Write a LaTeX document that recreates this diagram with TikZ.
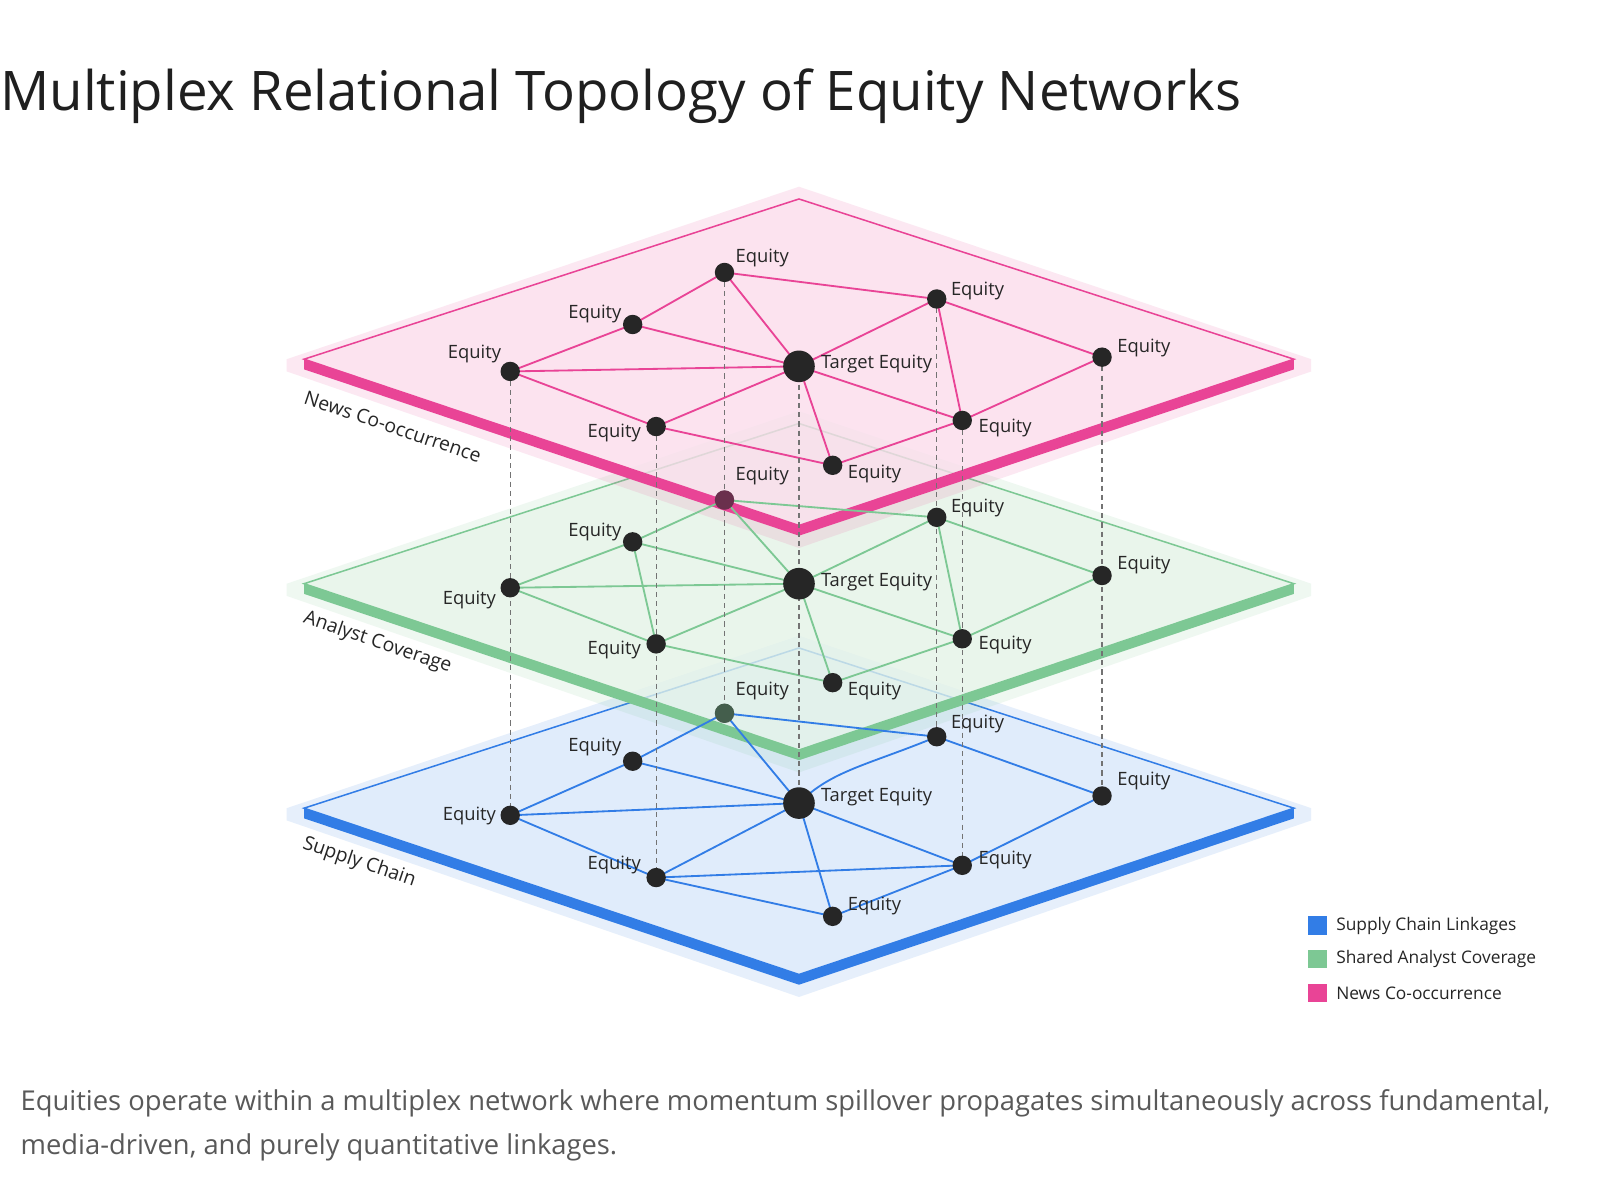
\documentclass[tikz,border=0pt]{standalone}
\usepackage{fontspec}
\setmainfont{Open Sans}
\begin{document}
\begin{tikzpicture}[x=1pt,y=-1pt,
  dot/.style={circle,fill=black!85,inner sep=0pt,minimum size=19pt},
  tdot/.style={circle,fill=black!85,inner sep=0pt,minimum size=31pt},
  lab/.style={font=\fontsize{18}{21}\selectfont,text=black!85},
  lay/.style={font=\fontsize{19}{22}\selectfont,text=black!85,rotate=-18.6,inner sep=0pt},
  vdash/.style={dash pattern=on 5pt off 4pt,black!55,line width=1.1pt},
  leg/.style={font=\fontsize{17}{20}\selectfont,text=black!85,anchor=west}]
\definecolor{pk}{RGB}{233,68,150}\definecolor{pkf}{RGB}{252,226,239}
\definecolor{gr}{RGB}{125,200,148}\definecolor{grf}{RGB}{232,245,234}
\definecolor{bl}{RGB}{50,125,230}\definecolor{blf}{RGB}{224,236,251}
\useasboundingbox (0,0) rectangle (1568,1176);
\fill[white] (0,0) rectangle (1568,1176);
\node[anchor=base west,inner sep=0pt,font=\fontsize{53.5}{60}\selectfont,text=black!88] (title) at (0,108) {Multiplex Relational Topology of Equity Networks};
\foreach \dy/\c/\f/\op in {440/bl/blf/1, 220/gr/grf/0.75, 0/pk/pkf/0.75}{
  \begin{scope}[yshift=-\dy pt]
  \fill[\c,opacity=0.12] (783,183) -- (1285,352) -- (1285,364) -- (783,537) -- (281,364) -- (281,352) -- cycle;
  \fill[\f,opacity=\op] (783,195) -- (1268,352) -- (783,515) -- (298,352) -- cycle;
  \draw[\c,line width=1.5pt] (783,195) -- (1268,352) -- (783,515) -- (298,352) -- cycle;
  \fill[\c] (298,352) -- (783,515) -- (1268,352) -- (1268,362) -- (783,525) -- (298,362) -- cycle;
  \end{scope}}
\node[lay] (lp) at (385,418) {News Co-occurrence};
\node[lay] (lg) at (370,630) {Analyst Coverage};
\node[lay] (lb) at (352,845) {Supply Chain};
\foreach \n/\x/\y in {B1/710/699,B2/918/722,B3/620/746,B4/500/799,BT/783/787,B5/1080/780,B6/643/860,B7/943/848,B8/816/898,
 G1/710/490,G2/918/507,G3/620/531,G4/500/576,GT/783/572,G5/1080/564,G6/643/631,G7/943/626,G8/816/669,
 P1/710/267,P2/918/293,P3/620/318,P4/500/364,PT/783/359,P5/1080/350,P6/643/418,P7/943/412,P8/816/456}
  {\coordinate (\n) at (\x,\y);}
\foreach \L/\c in {G/gr,P/pk}{
  \foreach \a/\b in {1/3,1/T,1/2,3/T,3/4,4/T,4/6,6/T,6/8,T/8,T/2,T/7,2/7,2/5,5/7,7/8}
    \draw[\c,line width=1.8pt] (\L\a) -- (\L\b);}
\draw[gr,line width=1.8pt] (G3) -- (G6);
\foreach \a/\b in {1/3,1/T,1/2,3/T,3/4,4/T,4/6,6/T,6/8,T/8,T/7,2/5,5/7,7/8,6/7}
    \draw[bl,line width=1.8pt] (B\a) -- (B\b);
\draw[bl,line width=1.8pt] (BT) .. controls (815,755) and (850,750) .. (B2);
\foreach \a/\b in {P4/B4,P6/B6,P1/B1,PT/BT,P2/B2,P7/B7,P5/B5}
  \draw[vdash] (\a) -- (\b);
\foreach \L in {B,G,P}{
  \foreach \k in {1,2,3,4,5,6,7,8} \node[dot] (d\L\k) at (\L\k) {};
  \node[tdot] (d\L T) at (\L T) {};}
\fill[pk,opacity=0.35] (dG1) circle (9.5pt);
\fill[gr,opacity=0.35] (dB1) circle (9.5pt);
\foreach \L/\dy in {P/0,G/213,B/424}{
  \begin{scope}[yshift=-\dy pt]
  \node[lab] (t\L1) at (747,253) {Equity};
  \node[lab] (t\L2) at (958,285) {Equity};
  \node[lab] (t\L3) at (583,308) {Equity};
  \node[lab] (t\L5) at (1121,341) {Equity};
  \node[lab] (t\L T) at (859,357) {Target Equity};
  \node[lab] (t\L6) at (602,424) {Equity};
  \node[lab] (t\L7) at (985,419) {Equity};
  \node[lab] (t\L8) at (857,464) {Equity};
  \end{scope}}
\node[lab] (tP4) at (465,347) {Equity};
\node[lab] (tG4) at (460,588) {Equity};
\node[lab] (tB4) at (460,800) {Equity};
\fill[bl] (1282,898) rectangle (1300,916);
\fill[gr] (1282,931) rectangle (1300,949);
\fill[pk] (1282,964) rectangle (1300,982);
\node[leg] (l1) at (1306,907) {Supply Chain Linkages};
\node[leg] (l2) at (1306,940) {Shared Analyst Coverage};
\node[leg] (l3) at (1306,973) {News Co-occurrence};
\node[anchor=north west,align=left,inner sep=0pt,font=\fontsize{26.8}{43}\selectfont,text=black!65] (cap) at (20,1068) {Equities operate within a multiplex network where momentum spillover propagates simultaneously across fundamental,\\media-driven, and purely quantitative linkages.};
\end{tikzpicture}
\end{document}
